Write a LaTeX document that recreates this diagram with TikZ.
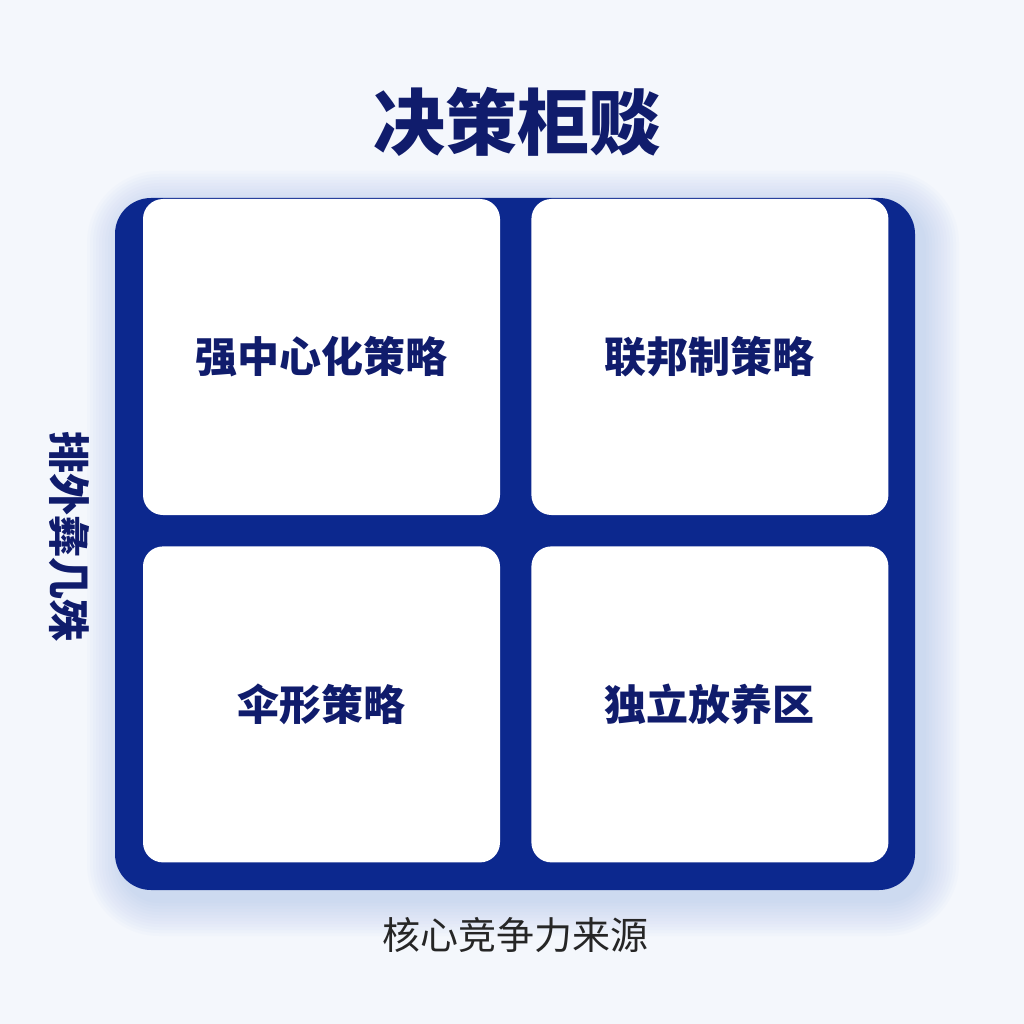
\documentclass[tikz,border=0pt]{standalone}
\usepackage{fontspec}
\setmainfont{Noto Sans CJK SC}
\usetikzlibrary{positioning}
\definecolor{navy}{RGB}{12,40,142}
\definecolor{ink}{RGB}{16,28,108}
\definecolor{bg}{RGB}{244,247,252}
\definecolor{glow}{RGB}{150,176,238}

\begin{document}
\begin{tikzpicture}[x=1pt,y=-1pt,
    quad/.style={rectangle,rounded corners=20pt,fill=white,inner sep=0pt,
                 minimum width=357pt,minimum height=316pt,text=ink,
                 font=\fontsize{42}{50}\selectfont\bfseries},
    node distance=31pt]
   \useasboundingbox[fill=bg] (0,0) rectangle (1024,1024);
   % soft glow round the frame
   \foreach \s in {3,6,...,36}
     \fill[glow,opacity=0.035,rounded corners=36pt+\s*1pt]
       (115-\s+8,197-\s+10) rectangle (915+\s+8,890+\s+10);
   \node[rectangle,rounded corners=36pt,fill=navy,minimum width=800pt,
         minimum height=692pt,inner sep=0pt] (frame) at (515,544) {};
   \node[quad] (tl) at (321.5,357) {强中心化策略};
   \node[quad] (tr) [right=of tl] {联邦制策略};
   \node[quad] (bl) [below=of tl] {伞形策略};
   \node[quad] (br) [below=of tr] {独立放养区};
   \node[text=ink,font=\fontsize{72}{80}\selectfont\bfseries] (title) at (517,122) {决策柜赕};
   \node[text=black!85,font=\fontsize{38}{44}\selectfont] (xlab) at (515,935) {核心竞争力来源};
   \node[text=ink,rotate=-90,font=\fontsize{42}{50}\selectfont\bfseries] (ylab) at (69,536) {排外彝几殊};
\end{tikzpicture}
\end{document}
